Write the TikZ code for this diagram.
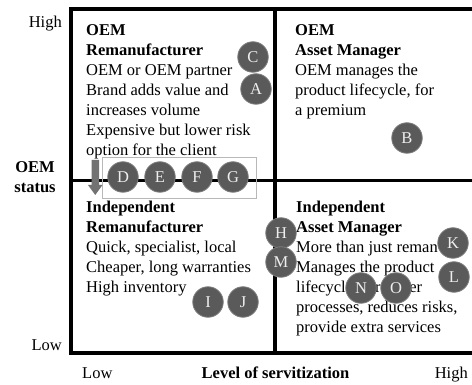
\documentclass[tikz,border=0pt]{standalone}
\usepackage{fontspec}
\setmainfont{Liberation Serif}
\definecolor{badgefill}{HTML}{5A5A5A}
\definecolor{badgeedge}{HTML}{7C7C7C}
\definecolor{badgetext}{HTML}{EEEEEE}
\definecolor{arrowgray}{HTML}{727272}
\definecolor{boxgray}{HTML}{B8B8B8}
\begin{document}
\begin{tikzpicture}[x=1pt,y=-1pt,
  frame/.style={line width=3.6pt, line join=miter},
  lbl/.style={font=\fontsize{16.5}{20}\selectfont, inner sep=0pt},
  quad/.style={lbl, anchor=north west, align=left},
  badge/.style={circle, fill=badgefill, draw=badgeedge, line width=0.8pt,
    minimum size=30.5pt, inner sep=0pt, text=badgetext,
    font=\fontsize{16.5}{20}\selectfont}
]
\useasboundingbox (0,0) rectangle (472,385);
\fill[white] (0,0) rectangle (472,385);
% frame
\draw[frame] (472,9) -- (71,9) -- (71,353) -- (472,353);
\draw[frame] (275,9) -- (275,353);
\draw[frame] (71,180.5) -- (472,180.5);
% highlight box
\draw[boxgray, line width=0.9pt] (102,157) rectangle (256,198);
% quadrant texts
\node[quad] (tlq) at (86,21) {\strut\textbf{OEM}\\ \textbf{Remanufacturer}\\ OEM or OEM partner\\ Brand adds value and\\ increases volume\\ Expensive but lower risk\\ option for the client};
\node[quad] (trq) at (295,21) {\strut\textbf{OEM}\\ \textbf{Asset Manager}\\ OEM manages the\\ product lifecycle, for\\ a premium};
\node[quad] (blq) at (86,198.5) {\strut\textbf{Independent}\\ \textbf{Remanufacturer}\\ Quick, specialist, local\\ Cheaper, long warranties\\ High inventory};
\node[quad] (brq) at (296,198.5) {\strut\textbf{Independent}\\ \textbf{Asset Manager}\\ More than just reman\\ Manages the product\\ lifecycle, for better\\ processes, reduces risks,\\ provide extra services};
% axis labels
\node[lbl, anchor=base east] (yhigh) at (62,28) {High};
\node[lbl, anchor=base east] (ylow) at (62,351) {Low};
\node[lbl, anchor=north, align=center, font=\fontsize{16.5}{20}\selectfont\bfseries] (ylab) at (35,158.5) {\strut OEM\\ status};
\node[lbl, anchor=base west] (xlow) at (82,378) {Low};
\node[lbl, anchor=base, font=\fontsize{16.5}{20}\selectfont\bfseries] (xlab) at (275.5,378) {Level of servitization};
\node[lbl, anchor=base east] (xhigh) at (468,378) {High};
% arrow
\fill[arrowgray] (91.5,160) -- (99,160) -- (99,185) -- (102.5,185) -- (95.25,195) -- (88,185) -- (91.5,185) -- cycle;
% badges
\node[badge] (C) at (253,57) {C};
\node[badge] (A) at (256,89) {A};
\node[badge] (B) at (407,138) {B};
\node[badge] (D) at (123,177) {D};
\node[badge] (E) at (160,177) {E};
\node[badge] (F) at (197,177) {F};
\node[badge] (G) at (233,177) {G};
\node[badge] (H) at (281,233) {H};
\node[badge] (M) at (281,262) {M};
\node[badge] (I) at (208,302) {I};
\node[badge] (J) at (243,302) {J};
\node[badge] (K) at (453,243) {K};
\node[badge] (L) at (454,277) {L};
\node[badge] (N) at (361,288) {N};
\node[badge] (O) at (396,288) {O};
\end{tikzpicture}
\end{document}
